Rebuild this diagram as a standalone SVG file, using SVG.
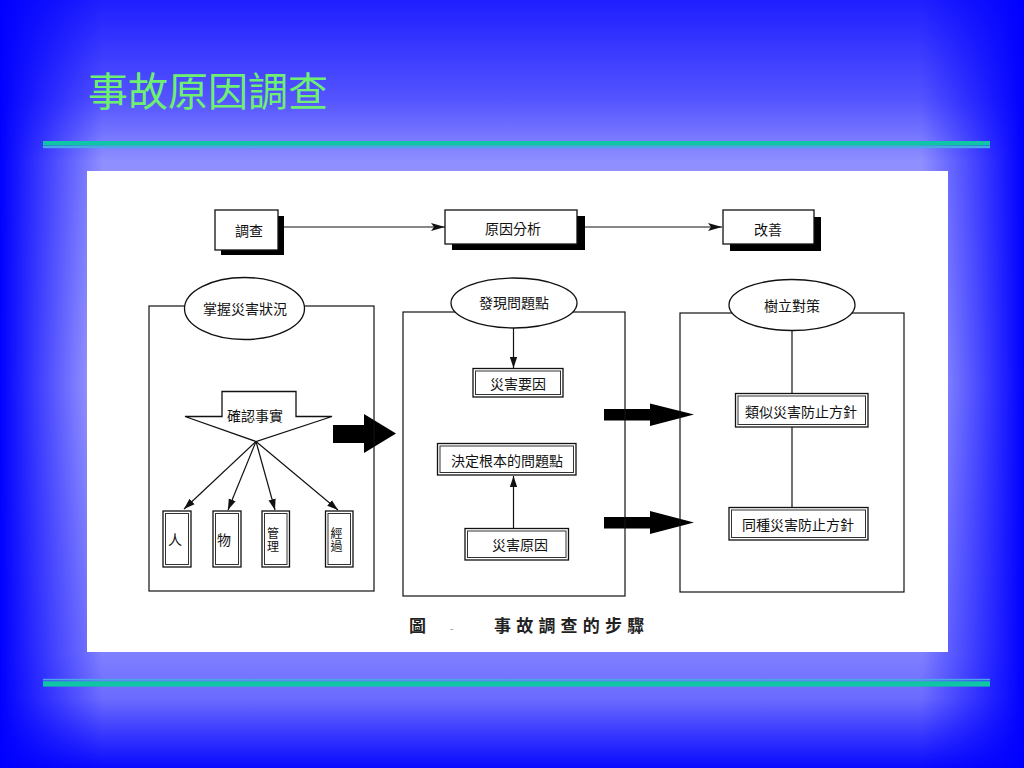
<svg xmlns="http://www.w3.org/2000/svg" width="1024" height="768" viewBox="0 0 1024 768">
<defs>
<style>
.t{font-family:"Noto Sans CJK TC","Noto Sans CJK SC",sans-serif;font-size:14px;fill:#111;text-anchor:middle;dominant-baseline:central}
.v{font-size:12px;writing-mode:vertical-rl;letter-spacing:1px}
.bx{fill:#fff;stroke:#111;stroke-width:1.3}
.db{fill:none;stroke:#333;stroke-width:1}
.sh{fill:#000}
.ln{fill:none;stroke:#111;stroke-width:1.2}
.big{fill:#000}
</style>
<linearGradient id="gv" x1="0" y1="0" x2="0" y2="1">
<stop offset="0" stop-color="#fff" stop-opacity="0.12"/>
<stop offset="0.05" stop-color="#fff" stop-opacity="0.2"/>
<stop offset="0.13" stop-color="#fff" stop-opacity="0.33"/>
<stop offset="0.21" stop-color="#fff" stop-opacity="0.56"/>
<stop offset="0.5" stop-color="#fff" stop-opacity="0.66"/>
<stop offset="0.85" stop-color="#fff" stop-opacity="0.5"/>
<stop offset="0.91" stop-color="#fff" stop-opacity="0.42"/>
<stop offset="0.96" stop-color="#fff" stop-opacity="0.2"/>
<stop offset="1" stop-color="#fff" stop-opacity="0.04"/>
</linearGradient>
<linearGradient id="gh" x1="0" y1="0" x2="1" y2="0">
<stop offset="0" stop-color="#000"/>
<stop offset="0.1" stop-color="#fff"/>
<stop offset="0.9" stop-color="#fff"/>
<stop offset="1" stop-color="#000"/>
</linearGradient>
<mask id="mh"><rect width="1024" height="768" fill="url(#gh)"/></mask>
<marker id="ah" viewBox="0 0 14 8" refX="14" refY="4" markerWidth="14" markerHeight="8" markerUnits="userSpaceOnUse" orient="auto">
<path d="M0,0 L14,4 L0,8 L3,4 z" fill="#111"/>
</marker>
<marker id="as" viewBox="0 0 12 8" refX="12" refY="4" markerWidth="11" markerHeight="8" markerUnits="userSpaceOnUse" orient="auto">
<path d="M0,0 L12,4 L0,8 z" fill="#111"/>
</marker>
</defs>

<g id="background">
<rect width="1024" height="768" fill="#0000ff"/>
<rect width="1024" height="768" fill="url(#gv)" mask="url(#mh)"/>
<rect x="43" y="141" width="947" height="4.6" fill="#10c4a6"/>
<rect x="43" y="146" width="947" height="2.2" fill="#4aa6e6"/>
<rect x="43" y="678.8" width="947" height="1.6" fill="#4aa6e6"/>
<rect x="43" y="681.2" width="947" height="5.4" fill="#10c4a6"/>
<text x="88" y="106" font-family="'Noto Sans CJK TC','Noto Sans CJK SC',sans-serif" font-size="40" fill="#6eef72">事故原因調查</text>
<rect x="87" y="171" width="861" height="481" fill="#fff"/>
</g>

<g id="connectors">
<line class="ln" x1="284" y1="227" x2="445" y2="227" marker-end="url(#ah)"/>
<line class="ln" x1="585" y1="227" x2="722" y2="227" marker-end="url(#ah)"/>
<line class="ln" x1="256" y1="441.5" x2="184" y2="509" marker-end="url(#as)"/>
<line class="ln" x1="256" y1="441.5" x2="228" y2="510" marker-end="url(#as)"/>
<line class="ln" x1="256" y1="441.5" x2="275" y2="510" marker-end="url(#as)"/>
<line class="ln" x1="256" y1="441.5" x2="338" y2="510" marker-end="url(#as)"/>
<line class="ln" x1="513.5" y1="328" x2="513.5" y2="368" marker-end="url(#as)"/>
<line class="ln" x1="513.5" y1="528" x2="513.5" y2="476" marker-end="url(#as)"/>
<line class="ln" x1="792" y1="330" x2="792" y2="393"/>
<line class="ln" x1="792" y1="427" x2="792" y2="507"/>
<path class="big" d="M333,425 L364,425 L364,414 L396,433.5 L364,453 L364,443 L333,443 z"/>
<path class="big" d="M604,409 L650,409 L650,403.5 L694,414.5 L650,426 L650,420.5 L604,420.5 z"/>
<path class="big" d="M604,517 L650,517 L650,511 L694,522.5 L650,534 L650,528.5 L604,528.5 z"/>
</g>

<g id="n-survey">
<rect class="sh" x="221" y="216" width="63" height="39"/>
<rect class="bx" x="215" y="210" width="63" height="40"/>
<text class="t" x="249" y="230" font-size="13">調查</text>
</g>
<g id="n-analysis">
<rect class="sh" x="452" y="216" width="133" height="34"/>
<rect class="bx" x="445" y="210" width="132" height="34"/>
<text class="t" x="513" y="228">原因分析</text>
</g>
<g id="n-improve">
<rect class="sh" x="730" y="217" width="91" height="34"/>
<rect class="bx" x="723" y="210" width="91" height="34"/>
<text class="t" x="768" y="229">改善</text>
</g>

<g id="n-grasp">
<rect class="ln" x="149" y="306" width="225" height="285"/>
<ellipse class="bx" cx="244.5" cy="308.5" rx="60" ry="31"/>
<text class="t" x="245" y="308">掌握災害狀況</text>
</g>
<g id="n-confirm">
<path class="bx" d="M222,391.5 L296,391.5 L296,416.5 L332,416.5 L256,441.5 L185,416.5 L222,416.5 z" stroke-linejoin="miter"/>
<text class="t" x="255" y="415" font-size="13">確認事實</text>
</g>
<g id="n-person">
<rect class="bx" x="163" y="511" width="28" height="56"/>
<rect class="db" x="165.5" y="513.5" width="23" height="51"/>
<text class="t" x="175" y="539">人</text>
</g>
<g id="n-thing">
<rect class="bx" x="213" y="511" width="28" height="56"/>
<rect class="db" x="215.5" y="513.5" width="23" height="51"/>
<text class="t" x="224" y="539">物</text>
</g>
<g id="n-manage">
<rect class="bx" x="262" y="511" width="27.5" height="56"/>
<rect class="db" x="264.5" y="513.5" width="22.5" height="51"/>
<text class="t v" x="273" y="540">管理</text>
</g>
<g id="n-process">
<rect class="bx" x="325.5" y="511" width="27.5" height="56"/>
<rect class="db" x="328" y="513.5" width="22.5" height="51"/>
<text class="t v" x="336.5" y="540.5">經過</text>
</g>

<g id="n-find">
<rect class="ln" x="403" y="312" width="222" height="284"/>
<ellipse class="bx" cx="514" cy="303" rx="63" ry="25"/>
<text class="t" x="514" y="302">發現問題點</text>
</g>
<g id="n-factor">
<rect class="bx" x="473" y="368.5" width="90" height="28.5"/>
<rect class="db" x="475.5" y="371" width="85" height="23.5"/>
<text class="t" x="518" y="383">災害要因</text>
</g>
<g id="n-root">
<rect class="bx" x="437.5" y="443.5" width="138.5" height="31.5"/>
<rect class="db" x="440" y="446" width="133.5" height="26.5"/>
<text class="t" x="507" y="460">決定根本的問題點</text>
</g>
<g id="n-cause">
<rect class="bx" x="465" y="528.5" width="103.5" height="31.5"/>
<rect class="db" x="467.5" y="531" width="98.5" height="26.5"/>
<text class="t" x="520" y="544">災害原因</text>
</g>

<g id="n-measure">
<rect class="ln" x="680" y="313" width="224" height="279"/>
<ellipse class="bx" cx="792" cy="305" rx="63" ry="25.5"/>
<text class="t" x="792" y="305">樹立對策</text>
</g>
<g id="n-similar">
<rect class="bx" x="735.5" y="393.5" width="132.5" height="33.5"/>
<rect class="db" x="738" y="396" width="127.5" height="28.5"/>
<text class="t" x="801" y="411">類似災害防止方針</text>
</g>
<g id="n-same">
<rect class="bx" x="729" y="507.5" width="139" height="32.5"/>
<rect class="db" x="731.5" y="510" width="134" height="27.5"/>
<text class="t" x="798" y="524">同種災害防止方針</text>
</g>

<g id="caption">
<text x="409" y="632" font-family="'Noto Sans CJK TC','Noto Sans CJK SC',sans-serif" font-size="17" font-weight="bold" fill="#222"><tspan>圖</tspan><tspan x="450" font-weight="normal" fill="#888" font-size="10">-</tspan><tspan x="494" letter-spacing="5.2">事故調查的步驟</tspan></text>
</g>
</svg>
